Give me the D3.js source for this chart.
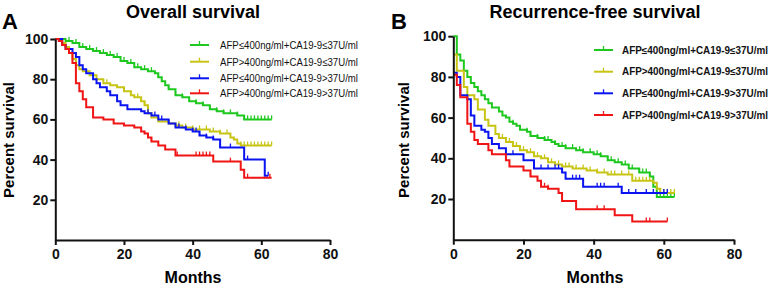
<!DOCTYPE html>
<html lang="en">
<head>
<meta charset="UTF-8">
<title>Survival curves</title>
<script src="https://cdn.jsdelivr.net/npm/d3@7/dist/d3.min.js"></script>
<style>
  body { margin: 0; background: #fff; }
  svg { display: block; font-family: "Liberation Sans", Arial, sans-serif; }
</style>
</head>
<body>
<svg width="777" height="286"></svg>
<script>
// group names (legend order) and colours
const groups = ["AFP≤400ng/ml+CA19-9≤37U/ml", "AFP>400ng/ml+CA19-9≤37U/ml",
                "AFP≤400ng/ml+CA19-9>37U/ml", "AFP>400ng/ml+CA19-9>37U/ml"];
const colors = ["#1ec81e", "#c8c414", "#0a14f0", "#f01414"];

const xTicks = [0, 20, 40, 60, 80];
const yTicks = [20, 40, 60, 80, 100];

// Overall survival: step points [month, percent]
const osGreen = [[0,100],[3,99],[5,98],[7,96],[9,95],[11,94],[13,93],[15,92],[17,91],[19,89],[21,88],[23,86],[25,85],[27,84],[29,83],[30,81],[31,79],[32,77],[33,75],[35,72],[37,71],[39,69],[41,68],[43,67],[45,65],[47,64],[49,63],[53,62],[55,60],[63,60]];
const osYellow = [[0,100],[2,98],[3,96],[4,93],[5,90],[6,87],[7,85],[8,84],[10,82],[12,80],[14,78],[16,77],[18,76],[20,74],[22,72],[23,71],[25,69],[26,67],[27,63],[28,61],[30,59],[33,58],[35,57],[37,56],[40,55],[45,54],[48,53],[51,51],[52,50],[53,48],[54,47],[63,47]];
const osBlue = [[0,100],[2,97],[3,95],[5,93],[6,91],[7,87],[8,85],[9,83],[11,80],[12,78],[13,76],[15,74],[16,72],[18,69],[19,67],[21,65],[25,64],[26,63],[28,62],[30,60],[33,58],[35,56],[38,55],[40,54],[42,52],[44,51],[46,50],[48,46],[55,40],[61,32],[62,32]];
const osRed = [[0,100],[1,99],[2,97],[3,95],[4,93],[5,88],[6,78],[7,74],[8,70],[9,66],[11,61],[14,60],[17,58],[20,57],[23,56],[25,54],[26,53],[27,51],[28,49],[30,47],[32,45],[35,42],[46,39],[54,35],[55,31],[63,31]];

// Overall survival: censored months
const osGreenCens = [4,6,8,10,12,14,16,18,20,22,24,26,28,30,33,35,37,39,41,43,45,47,49,51,53,55,56,57,58,59,60,61,62,63];
const osYellowCens = [15,20,22,24,25,26,27,30,33,36,38,40,42,44,46,48,50,54,55,56,57,58,59,60,61,62,63];
const osBlueCens = [27,29,31,33,36,38,40,41,42,44,46,48,51,56,62];
const osRedCens = [28,35.5,41,42,43,44,45,51,56,62.5];

// Recurrence-free survival: step points
const rfsGreen = [[0,100],[1,91],[2,88],[3,83],[4,80],[5,77],[6,75],[7,73],[8,71],[9,69],[10,67],[11,65],[13,63],[14,61],[15,60],[16,58],[17,57],[18,56],[19,54],[21,53],[22,51],[24,50],[26,49],[28,48],[29,47],[30,46],[32,45],[35,44],[37,43],[40,42],[42,41],[44,39],[46,38],[48,37],[50,35],[53,33],[56,31],[57,26],[58,21],[63,21]];
const rfsYellow = [[0,91],[1,83],[3,75],[4,71],[6,69],[7,64],[9,59],[10,56],[12,52],[13,50],[15,48],[17,46],[19,44],[21,43],[23,41],[25,40],[27,38],[29,37],[31,36],[34,35],[38,34],[41,33],[44,32],[51,29],[57,28],[58,25],[59,23],[63,23]];
const rfsBlue = [[0,82],[1,80],[2,71],[4,69],[5,61],[6,56],[8,54],[9,53],[10,50],[11,47],[13,45],[15,42],[20,39],[23,35],[31,33],[32,30],[37,26],[48,23],[61,23]];
const rfsRed = [[0,81],[1,76],[2,70],[4,57],[5,53],[6,49],[7,47],[10,44],[11,42],[15,39],[16,36],[20,34],[22,31],[24,29],[25,26],[27,25],[30,23],[31,19],[35,15],[46,12],[51,9],[61,9]];

const rfsGreenCens = [17,19,21,22,24,26,27,29,31,32,34,36,37,39,41,42,44,45,47,49,51,53,54,55,56,59,60,61,62,63];
const rfsYellowCens = [14,16,18,20,22,24,26,28,30,32,33,35,37,39,41,43,45,46,48,50,52,53,54,55,56,59,60,61,62,63];
const rfsBlueCens = [17,25,27,29,30,34,35,36,41,42,43,47,50,52,55,57,60,61];
const rfsRedCens = [22,26,27,41,43,55,56,61];

const svg = d3.select("svg");

// value of a step curve at month t
function stepAt(pts, t) {
    let v = pts[0][1];
    for (const p of pts) { if (p[0] <= t) v = p[1]; else break; }
    return v;
}

function drawPanel(o) {
    const x = d3.scaleLinear().domain([0, 80]).range(o.xr);
    const y = d3.scaleLinear().domain([0, 100]).range(o.yr);
    const g = svg.append("g");

    const line = d3.line().curve(d3.curveStepAfter)
        .x(d => x(d[0])).y(d => y(d[1]));

    o.series.forEach((s, i) => {
        g.append("path")
            .attr("d", line(s))
            .attr("fill", "none")
            .attr("stroke", colors[i])
            .attr("stroke-width", 2);
        g.append("g").selectAll("line")
            .data(o.cens[i])
            .join("line")
            .attr("x1", d => x(d)).attr("x2", d => x(d))
            .attr("y1", d => y(stepAt(s, d)))
            .attr("y2", d => y(stepAt(s, d)) - 4)
            .attr("stroke", colors[i])
            .attr("stroke-width", 1.3);
    });

    // axes
    const ya = g.append("g").attr("transform", `translate(${o.xr[0]},0)`)
        .call(d3.axisLeft(y).tickValues(yTicks).tickSize(5).tickSizeOuter(0));
    const xa = g.append("g").attr("transform", `translate(0,${o.yr[0]})`)
        .call(d3.axisBottom(x).tickValues(xTicks).tickSize(5).tickSizeOuter(0));
    [ya, xa].forEach(a => {
        a.select(".domain").attr("stroke", "#111").attr("stroke-width", 2);
        a.selectAll(".tick line").attr("stroke", "#111").attr("stroke-width", 2);
        a.selectAll(".tick text").attr("fill", "#111")
            .style("font", "bold 14px 'Liberation Sans', Arial, sans-serif");
    });
    ya.selectAll(".tick text").attr("x", -7);
    xa.selectAll(".tick text").attr("y", 9);

    // titles and labels
    svg.append("text").attr("x", o.titleX).attr("y", 18)
        .attr("text-anchor", "middle").attr("font-size", 18).attr("font-weight", "bold")
        .text(o.title);
    svg.append("text").attr("x", o.letterX).attr("y", 29)
        .attr("font-size", 22).attr("font-weight", "bold").text(o.letter);
    svg.append("text").attr("x", o.titleX).attr("y", 283)
        .attr("text-anchor", "middle").attr("font-size", 16).attr("font-weight", "bold")
        .text("Months");
    svg.append("text")
        .attr("transform", `translate(${o.ylabX},140) rotate(-90)`)
        .attr("text-anchor", "middle").attr("font-size", 15).attr("font-weight", "bold")
        .text("Percent survival");

    // legend
    const lg = svg.append("g").selectAll("g")
        .data(groups)
        .join("g")
        .attr("transform", (d, i) => `translate(${o.leg.x},${o.leg.rows[i]})`);
    lg.append("line").attr("x1", 0).attr("x2", o.leg.len)
        .attr("stroke", (d, i) => colors[i]).attr("stroke-width", 2);
    lg.append("line").attr("x1", o.leg.len / 2).attr("x2", o.leg.len / 2)
        .attr("y1", 0).attr("y2", -4)
        .attr("stroke", (d, i) => colors[i]).attr("stroke-width", 1.3);
    lg.append("text")
        .attr("x", o.leg.tx).attr("dy", "0.35em")
        .attr("font-size", o.leg.fs).attr("font-weight", o.leg.weight)
        .attr("textLength", o.leg.tw).attr("lengthAdjust", "spacingAndGlyphs")
        .attr("fill", "#111")
        .text(d => d);
}

drawPanel({
    xr: [55.3, 330], yr: [240, 39],
    series: [osGreen, osYellow, osBlue, osRed],
    cens: [osGreenCens, osYellowCens, osBlueCens, osRedCens],
    title: "Overall survival", letter: "A", titleX: 193, letterX: 2, ylabX: 14,
    leg: { x: 190, len: 19, tx: 30, tw: 138, fs: 11, weight: "normal", rows: [45, 61.7, 78.3, 93.3] }
});

drawPanel({
    xr: [453.3, 734], yr: [239.7, 36.2],
    series: [rfsGreen, rfsYellow, rfsBlue, rfsRed],
    cens: [rfsGreenCens, rfsYellowCens, rfsBlueCens, rfsRedCens],
    title: "Recurrence-free survival", letter: "B", titleX: 595, letterX: 391, ylabX: 409,
    leg: { x: 594, len: 19, tx: 28, tw: 146, fs: 10, weight: "bold", rows: [50, 71.7, 93.3, 115] }
});
</script>
</body>
</html>
